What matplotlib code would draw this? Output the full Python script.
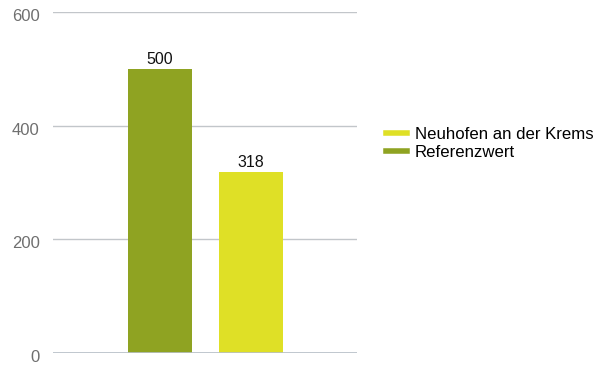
import matplotlib.pyplot as plt
import matplotlib.transforms as mtransforms
from matplotlib.lines import Line2D

plt.rcParams['font.family'] = ['Liberation Sans', 'DejaVu Sans']

series = ['Referenzwert', 'Neuhofen an der Krems']
values = [500, 318]
colors = ['#8fa322', '#dfe026']
yticks = [0, 200, 400, 600]

fig = plt.figure(figsize=(6.12, 3.65), dpi=100)
ax = fig.add_axes([0.0866, 0.033, 0.497, 0.934])

pos = [0, 1]
bars = ax.bar(pos, values, width=0.71, color=colors, zorder=2)
for b, v in zip(bars, values):
    ax.text(b.get_x() + b.get_width() / 2, v + 4, str(v), ha='center', va='bottom',
            fontsize=11.5, color='#111111')

ax.set_xlim(-1.18, 2.17)
ax.set_ylim(0, 600)
ax.set_yticks(yticks)
ax.set_yticklabels([str(t) for t in yticks], fontsize=12, color='#6f6f6f')
ax.set_xticks([])
ax.tick_params(axis='y', length=0, pad=9.5)
# labels sit a little below their grid lines
off = mtransforms.ScaledTranslation(0, -3 / 100, fig.dpi_scale_trans)
for lab in ax.get_yticklabels():
    lab.set_transform(lab.get_transform() + off)
ax.grid(axis='y', color='#c2c6ca', linewidth=1, zorder=0)
for s in ax.spines.values():
    s.set_visible(False)
ax.axhline(0, color='#b8c0c8', linewidth=1.2, zorder=3)

handles = [Line2D([], [], color=colors[1], linewidth=4),
           Line2D([], [], color=colors[0], linewidth=4)]
fig.legend(handles, [series[1], series[0]], loc='upper left',
           bbox_to_anchor=(0.619, 0.67), frameon=False, fontsize=12.1,
           handlelength=1.3, handletextpad=0.45, labelspacing=0.15,
           borderaxespad=0)

fig.savefig('out.png', dpi=100)
